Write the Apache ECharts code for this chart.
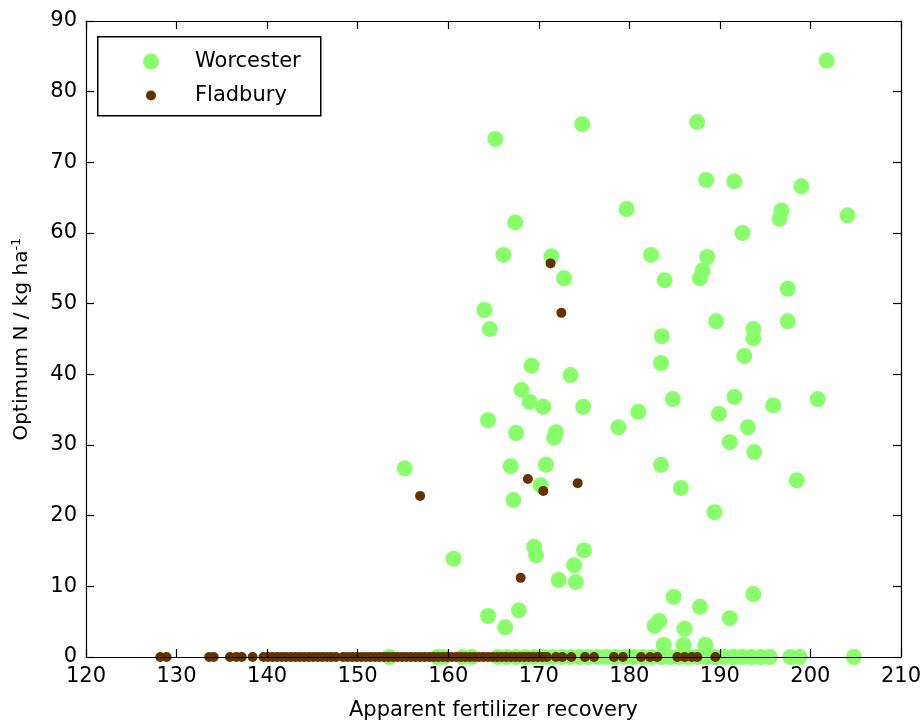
<!DOCTYPE html>
<html>
<head>
<meta charset="utf-8">
<script src="https://cdn.jsdelivr.net/npm/echarts@6/dist/echarts.min.js"></script>
<style>html,body{margin:0;padding:0;background:#fff}#c{width:924px;height:727px}</style>
</head>
<body>
<div id="c"></div>
<script>
// Worcester points (x, y)
var worcesterX = [155.2,160.6,164.0,164.4,164.4,164.6,165.2,166.1,166.3,166.9,167.2,167.4,167.5,167.8,168.1,169.0,169.2,169.5,169.7,170.2,170.5,170.8,171.4,171.7,171.9,172.2,172.8,173.5,173.9,174.1,174.8,174.9,175.0,178.8,179.7,181.0,182.4,182.8,183.3,183.5,183.6,183.5,183.9,183.8,184.8,184.9,185.7,186.1,186.0,187.5,187.8,187.8,188.1,188.4,188.6,188.5,189.4,189.6,189.9,191.1,191.1,191.6,191.6,192.5,192.7,193.1,193.7,193.7,193.8,193.7,195.9,196.6,196.8,197.5,197.5,198.5,199.0,200.8,201.8,204.1,
  153.5,158.8,159.5,161.6,162.6,165.5,166.5,167.5,168.5,169.5,170.5,171.5,172.5,173.5,174.5,175.5,176.5,177.5,178.5,179.5,180.5,181.5,182.5,183.5,184.5,185.5,186.5,187.5,188.5,189.5,190.5,191.5,192.5,193.5,194.5,195.5,197.8,198.8,204.8];
var worcesterY = [26.7,13.9,49.1,5.8,33.5,46.4,73.3,56.9,4.2,27.0,22.2,61.5,31.7,6.6,37.8,36.1,41.2,15.6,14.4,24.3,35.4,27.2,56.7,31.0,31.8,10.9,53.6,39.9,13.0,10.6,75.4,35.4,15.1,32.5,63.4,34.7,56.9,4.4,5.1,41.6,45.4,27.2,53.3,1.7,36.5,8.5,23.9,4.0,1.7,75.7,7.1,53.6,54.7,1.7,56.6,67.5,20.5,47.5,34.4,5.5,30.4,36.8,67.3,60.0,42.6,32.5,45.1,46.4,29.0,8.9,35.6,62.0,63.2,52.1,47.5,25.0,66.6,36.5,84.4,62.5,
  0,0,0,0,0,0,0,0,0,0,0,0,0,0,0,0,0,0,0,0,0,0,0,0,0,0,0,0,0,0,0,0,0,0,0,0,0,0,0];
// Fladbury points (x, y)
var fladburyX = [156.9,168.8,170.5,174.3,168.0,171.3,172.5,
  128.2,128.9,133.6,134.1,135.9,136.6,137.2,138.4,
  139.6,140.1,140.6,141.1,141.6,142.1,142.6,143.1,143.6,144.1,144.6,145.1,145.6,146.1,146.6,147.1,147.6,148.4,148.9,149.4,149.9,150.4,150.9,151.4,151.9,152.4,152.9,153.4,153.9,154.4,154.9,155.4,155.9,156.4,156.9,157.4,157.9,158.4,158.9,159.4,159.9,160.4,160.9,161.4,161.9,162.4,162.9,163.4,163.9,164.4,164.9,165.4,165.9,166.4,166.9,167.4,167.9,168.4,168.9,169.4,169.9,170.4,170.9,
  171.9,172.6,173.6,175.1,176.1,178.3,179.3,181.3,182.3,183.1,185.3,186.1,186.9,187.5,189.5];
var fladburyY = [22.8,25.2,23.5,24.6,11.2,55.7,48.7,
  0,0,0,0,0,0,0,0,
  0,0,0,0,0,0,0,0,0,0,0,0,0,0,0,0,0,0,0,0,0,0,0,0,0,0,0,0,0,0,0,0,0,0,0,0,0,0,0,0,0,0,0,0,0,0,0,0,0,0,0,0,0,0,0,0,0,0,0,0,0,0,0,
  0,0,0,0,0,0,0,0,0,0,0,0,0,0,0];
var seriesNames = ['Worcester','Fladbury'];
var xTitle = 'Apparent fertilizer recovery';
var yTitleMain = 'Optimum N / kg ha';
var yTitleSup = '-1';

function pairs(xs, ys){ return xs.map(function(x,i){ return [x, ys[i]]; }); }

var FONT = 'DejaVu Sans';
var chart = echarts.init(document.getElementById('c'), null, {renderer:'canvas'});
var axisCommon = {
  interval: 10,
  axisLine: {show:true, onZero:false, lineStyle:{color:'#000', width:1.2}},
  axisTick: {show:true, inside:true, length:8, lineStyle:{color:'#000', width:1.2}},
  splitLine: {show:false}
};
chart.setOption({
  animation: false,
  backgroundColor: '#fff',
  grid: {left:86, right:22, top:21, bottom:70, containLabel:false},
  xAxis: [
    Object.assign({}, axisCommon, {type:'value', min:120, max:210, position:'bottom', z:10,
      name: xTitle, nameLocation:'middle', nameGap:43,
      nameTextStyle:{fontFamily:FONT, fontSize:21, color:'#000'},
      axisLabel:{fontFamily:FONT, fontSize:21, color:'#000', margin:9}}),
    Object.assign({}, axisCommon, {type:'value', min:120, max:210, position:'top', z:10,
      axisLabel:{show:false}})
  ],
  yAxis: [
    Object.assign({}, axisCommon, {type:'value', min:0, max:90, position:'left', z:10,
      name: '{m|' + yTitleMain + '}{s|' + yTitleSup + '}', nameLocation:'middle', nameGap:53, nameRotate:90,
      nameTextStyle:{fontFamily:FONT, fontSize:20, color:'#000',
        rich:{m:{fontFamily:FONT, fontSize:20, color:'#000'}, s:{fontFamily:FONT, fontSize:13, color:'#000', verticalAlign:'top', padding:[0,0,10,0]}}},
      axisLabel:{fontFamily:FONT, fontSize:21, color:'#000', margin:9}}),
    Object.assign({}, axisCommon, {type:'value', min:0, max:90, position:'right', z:10,
      axisLabel:{show:false}})
  ],
  graphic: [{type:'rect', left:97, top:36, shape:{width:223, height:79}, style:{fill:'#fff', stroke:'#000', lineWidth:1.5}, z:11}],
  legend: [
    {data:[seriesNames[0]], left:143, top:51, padding:0, itemWidth:16, itemHeight:16, icon:'circle', z:12,
      textStyle:{fontFamily:FONT, fontSize:21, color:'#000', lineHeight:16, padding:[0,0,0,31]}},
    {data:[seriesNames[1]], left:146, top:85, padding:0, itemWidth:10, itemHeight:10, icon:'circle', z:12,
      textStyle:{fontFamily:FONT, fontSize:21, color:'#000', lineHeight:16, padding:[0,0,0,34]}}
  ],
  series: [
    {name:seriesNames[0], type:'scatter', symbol:'circle', symbolSize:16, data:pairs(worcesterX, worcesterY),
      itemStyle:{color:'#88ff6a', opacity:1}, z:1, silent:true},
    {name:seriesNames[1], type:'scatter', symbol:'circle', symbolSize:10, data:pairs(fladburyX, fladburyY),
      itemStyle:{color:'#663300', opacity:1}, z:1, silent:true}
  ]
});
</script>
</body>
</html>
